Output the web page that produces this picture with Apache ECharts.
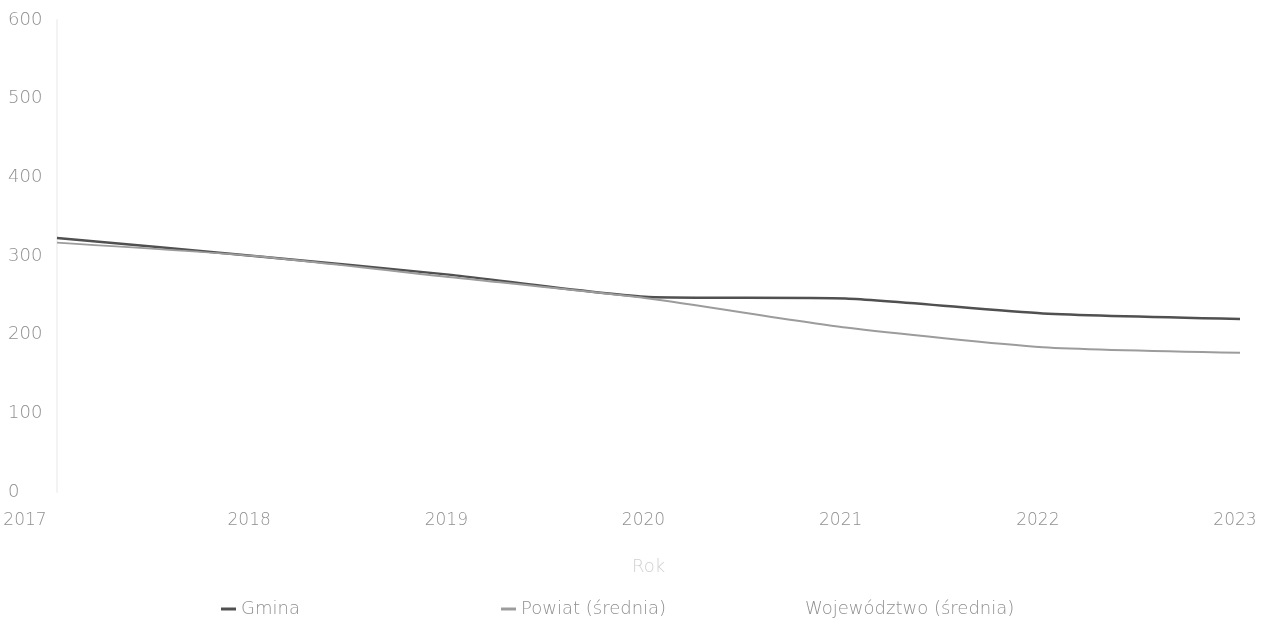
<!DOCTYPE html>
<html>
<head>
<meta charset="utf-8">
<script src="https://cdn.jsdelivr.net/npm/echarts@6/dist/echarts.min.js"></script>
<style>html,body{margin:0;padding:0;background:#fff}#c{width:1271px;height:627px}</style>
</head>
<body>
<div id="c"></div>
<script>
const years = ['2017','2018','2019','2020','2021','2022','2023'];
const gmina = [323, 300, 276, 248, 246, 227, 220];
const powiat = [317, 300, 273, 246, 209, 184, 177];
const wojewodztwo = [null, null, null, null, null, null, null];
const yTicks = [0, 100, 200, 300, 400, 500, 600];

const chart = echarts.init(document.getElementById('c'));
const font = '"DejaVu Sans", sans-serif';
const fw = 200;
const lblColor = '#8f8f8f';
const fs = 17;
const lfs = 18;
chart.setOption({
  animation: false,
  grid: { left: 57, right: 31, top: 20, bottom: 135 },
  xAxis: {
    type: 'category', data: years, boundaryGap: false,
    name: 'Rok', nameLocation: 'middle', nameGap: 66,
    nameTextStyle: { color: '#d0d0d0', fontSize: 18, fontFamily: font, fontWeight: fw },
    axisLine: { show: false }, axisTick: { show: false },
    axisLabel: {
      color: lblColor, fontSize: fs, fontFamily: font, fontWeight: fw, margin: 20,
      formatter: function (v, i) { return i === 0 ? '{a|' + v + '}' : '{b|' + v + '}'; },
      rich: {
        a: { color: lblColor, fontSize: fs, fontFamily: font, fontWeight: fw, padding: [0, 64, 0, 0] },
        b: { color: lblColor, fontSize: fs, fontFamily: font, fontWeight: fw, padding: [0, 10, 0, 0] }
      }
    }
  },
  yAxis: {
    type: 'value', min: yTicks[0], max: yTicks[yTicks.length-1], interval: 100,
    axisLine: { show: true, lineStyle: { color: '#f3f3f3', width: 2 } },
    axisTick: { show: false }, splitLine: { show: false },
    axisLabel: { color: lblColor, fontSize: 18, fontFamily: font, fontWeight: fw, align: 'left', margin: 49 }
  },
  legend: [
    { data: ['Gmina'], left: 216, top: 595, icon: 'rect', itemWidth: 15, itemHeight: 3, itemGap: 8,
      textStyle: { color: lblColor, fontSize: lfs, fontFamily: font, fontWeight: fw } },
    { data: ['Powiat (średnia)'], left: 496, top: 595, icon: 'rect', itemWidth: 15, itemHeight: 3,
      textStyle: { color: lblColor, fontSize: lfs, fontFamily: font, fontWeight: fw } },
    { data: ['Województwo (średnia)'], left: 780, top: 595, icon: 'rect', itemWidth: 15, itemHeight: 3,
      textStyle: { color: lblColor, fontSize: lfs, fontFamily: font, fontWeight: fw } }
  ],
  series: [
    { name: 'Gmina', type: 'line', data: gmina, smooth: 0.2, showSymbol: false,
      itemStyle: { color: '#505050' }, lineStyle: { color: '#505050', width: 2.5 } },
    { name: 'Powiat (średnia)', type: 'line', data: powiat, smooth: 0.2, showSymbol: false,
      itemStyle: { color: '#9c9c9c' }, lineStyle: { color: '#9c9c9c', width: 2 } },
    { name: 'Województwo (średnia)', type: 'line', data: wojewodztwo, showSymbol: false,
      itemStyle: { color: '#ffffff' }, lineStyle: { color: '#ffffff', width: 2 } }
  ]
});
</script>
</body>
</html>
